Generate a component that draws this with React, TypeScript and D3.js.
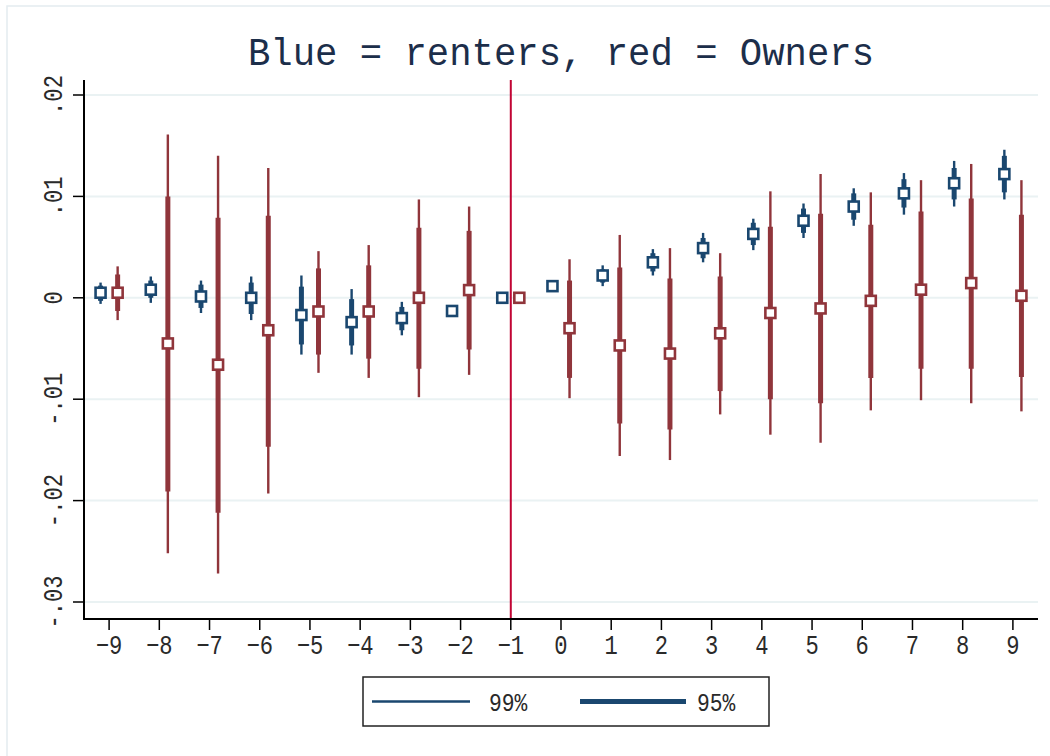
import React from "react";
import * as d3 from "d3";

// Event time relative to the reference period
const periods = [-9, -8, -7, -6, -5, -4, -3, -2, -1, 0, 1, 2, 3, 4, 5, 6, 7, 8, 9];

// Renters (blue): point estimates and confidence bounds
const renterEst = [0.0005, 0.0008, 0.00013, 0.0, -0.0017, -0.0024, -0.002, -0.0013, 0.0, 0.00115, 0.0022, 0.0035, 0.0049, 0.0063, 0.0076, 0.009, 0.0103, 0.0113, 0.0122];
const renterLo99 = [-0.0006, -0.0005, -0.0015, -0.0022, -0.0056, -0.0056, -0.0037, null, null, null, 0.00115, 0.0022, 0.0035, 0.0047, 0.0059, 0.0071, 0.0082, 0.009, 0.0097];
const renterHi99 = [0.0015, 0.0021, 0.0017, 0.0021, 0.0022, 0.00086, -0.0004, null, null, null, 0.0032, 0.0048, 0.0064, 0.0078, 0.0093, 0.0108, 0.0123, 0.0135, 0.0146];
const renterLo95 = [-0.0003, 0.0, -0.001, -0.0016, -0.0046, -0.0047, -0.0032, null, null, null, 0.0015, 0.0026, 0.0039, 0.0052, 0.0064, 0.0077, 0.0089, 0.0097, 0.0104];
const renterHi95 = [0.0012, 0.0017, 0.0013, 0.0015, 0.0011, -0.00013, -0.0009, null, null, null, 0.0028, 0.0044, 0.0059, 0.0074, 0.0088, 0.0103, 0.0117, 0.0128, 0.014];

// Owners (red): point estimates and confidence bounds
const ownerEst = [0.0005, -0.0045, -0.0066, -0.0032, -0.00135, -0.00135, 0.0, 0.00076, 0.0, -0.003, -0.0047, -0.0055, -0.0035, -0.0015, -0.00105, -0.0003, 0.0008, 0.00145, 0.0002];
const ownerLo99 = [-0.0022, -0.0252, -0.0272, -0.0193, -0.0074, -0.0079, -0.0098, -0.0076, null, -0.0099, -0.0156, -0.016, -0.0115, -0.0135, -0.0143, -0.0111, -0.0101, -0.0104, -0.0112];
const ownerHi99 = [0.0031, 0.0161, 0.014, 0.0128, 0.0046, 0.0052, 0.0097, 0.009, null, 0.0038, 0.0062, 0.0049, 0.0044, 0.0105, 0.0122, 0.0104, 0.0116, 0.0132, 0.0116];
const ownerLo95 = [-0.0013, -0.0191, -0.0212, -0.0147, -0.0056, -0.006, -0.007, -0.0051, null, -0.0079, -0.0124, -0.013, -0.0092, -0.01, -0.0104, -0.0079, -0.007, -0.007, -0.0078];
const ownerHi95 = [0.0023, 0.01, 0.0079, 0.0081, 0.0029, 0.0032, 0.0069, 0.0066, null, 0.0017, 0.003, 0.0019, 0.0021, 0.007, 0.0083, 0.0072, 0.0085, 0.0098, 0.0082];

const yTicks = [0.02, 0.01, 0, -0.01, -0.02, -0.03];
const yTickLabels = [".02", ".01", "0", "-.01", "-.02", "-.03"];
const referencePeriod = -1;

const titleText = "Blue = renters, red = Owners";
const legendLabels = ["99%", "95%"];

const BLUE = "#1a476f";
const RED = "#90353b";
const REFLINE = "#c10534";
const GRID = "#eaf2f3";
const TEXT = "#2a2a2a";
const FONT = "'Liberation Mono', 'DejaVu Sans Mono', monospace";
// narrow, tall lettering
const SQUEEZE = 0.82;

const W = 1050;
const H = 756;
const plot = { left: 84, right: 1038, top: 80, bottom: 619 };

const x = d3.scaleLinear().domain([-9.5, 9.5]).range([plot.left, plot.right]);
const y = d3.scaleLinear().domain([-0.03, 0.02]).range([602, 95]);

type Series = {
  color: string;
  offset: number;
  est: number[];
  lo99: (number | null)[];
  hi99: (number | null)[];
  lo95: (number | null)[];
  hi95: (number | null)[];
};

const series: Series[] = [
  { color: BLUE, offset: -0.17, est: renterEst, lo99: renterLo99, hi99: renterHi99, lo95: renterLo95, hi95: renterHi95 },
  { color: RED, offset: 0.17, est: ownerEst, lo99: ownerLo99, hi99: ownerHi99, lo95: ownerLo95, hi95: ownerHi95 },
];

function CoefSeries({ s }: { s: Series }) {
  const mk = 10;
  return (
    <g>
      {periods.map((p, i) => {
        const cx = x(p + s.offset);
        const lo99 = s.lo99[i];
        const hi99 = s.hi99[i];
        const lo95 = s.lo95[i];
        const hi95 = s.hi95[i];
        return (
          <g key={p}>
            {lo99 != null && hi99 != null && (
              <line x1={cx} x2={cx} y1={y(lo99)} y2={y(hi99)} stroke={s.color} strokeWidth={2.4} />
            )}
            {lo95 != null && hi95 != null && (
              <line x1={cx} x2={cx} y1={y(lo95)} y2={y(hi95)} stroke={s.color} strokeWidth={5} />
            )}
            <rect
              x={cx - mk / 2}
              y={y(s.est[i]) - mk / 2}
              width={mk}
              height={mk}
              fill="#ffffff"
              stroke={s.color}
              strokeWidth={2.6}
            />
          </g>
        );
      })}
    </g>
  );
}

function Label({
  tx,
  ty,
  rotate = 0,
  anchor = "middle",
  size = 27,
  fill = TEXT,
  children,
}: {
  tx: number;
  ty: number;
  rotate?: number;
  anchor?: string;
  size?: number;
  fill?: string;
  children: React.ReactNode;
}) {
  return (
    <text
      transform={`translate(${tx},${ty}) rotate(${rotate}) scale(${SQUEEZE},1)`}
      textAnchor={anchor}
      fontFamily={FONT}
      fontSize={size}
      fill={fill}
    >
      {children}
    </text>
  );
}

export default function App() {
  const legend = { x: 363, y: 677, w: 406, h: 49 };
  const legendMid = legend.y + legend.h / 2;
  return (
    <svg width={W} height={H} style={{ position: "absolute", left: 0, top: 0, background: "#ffffff" }}>
      <rect x={0} y={0} width={W} height={H} fill="#ffffff" />
      {/* outer graph region border */}
      <rect x={7} y={6} width={W} height={H} fill="none" stroke="#e4ecf0" strokeWidth={1.5} />

      {/* title */}
      <text
        x={(plot.left + plot.right) / 2}
        y={65}
        textAnchor="middle"
        fontFamily={FONT}
        fontSize={38}
        fill="#1c2e4a"
        textLength={626}
        lengthAdjust="spacingAndGlyphs"
      >
        {titleText}
      </text>

      {/* horizontal gridlines */}
      {yTicks.map((t) => (
        <line key={t} x1={plot.left} x2={plot.right} y1={y(t)} y2={y(t)} stroke={GRID} strokeWidth={2} />
      ))}

      {/* reference period */}
      <line x1={x(referencePeriod)} x2={x(referencePeriod)} y1={plot.top} y2={plot.bottom} stroke={REFLINE} strokeWidth={2} />

      {series.map((s, i) => (
        <CoefSeries key={i} s={s} />
      ))}

      {/* y axis */}
      <line x1={plot.left} x2={plot.left} y1={plot.top} y2={plot.bottom} stroke="#000" strokeWidth={2} />
      {yTicks.map((t, i) => (
        <g key={t}>
          <line x1={plot.left - 11} x2={plot.left} y1={y(t)} y2={y(t)} stroke="#000" strokeWidth={1.5} />
          <Label tx={plot.left - 22} ty={y(t)} rotate={-90}>
            {yTickLabels[i]}
          </Label>
        </g>
      ))}

      {/* x axis */}
      <line x1={plot.left - 1} x2={plot.right} y1={plot.bottom} y2={plot.bottom} stroke="#000" strokeWidth={2} />
      {periods.map((p) => (
        <g key={p}>
          <line x1={x(p)} x2={x(p)} y1={plot.bottom} y2={plot.bottom + 11} stroke="#000" strokeWidth={1.5} />
          <Label tx={x(p)} ty={plot.bottom + 35}>
            {p < 0 ? `\u2212${Math.abs(p)}` : `${p}`}
          </Label>
        </g>
      ))}

      {/* legend */}
      <rect x={legend.x} y={legend.y} width={legend.w} height={legend.h} fill="#fff" stroke="#222" strokeWidth={1.5} />
      <line x1={372} x2={470} y1={legendMid} y2={legendMid} stroke={BLUE} strokeWidth={2.4} />
      <Label tx={489} ty={legendMid + 9} anchor="start" size={26}>
        {legendLabels[0]}
      </Label>
      <line x1={580} x2={686} y1={legendMid} y2={legendMid} stroke={BLUE} strokeWidth={5} />
      <Label tx={697} ty={legendMid + 9} anchor="start" size={26}>
        {legendLabels[1]}
      </Label>
    </svg>
  );
}
